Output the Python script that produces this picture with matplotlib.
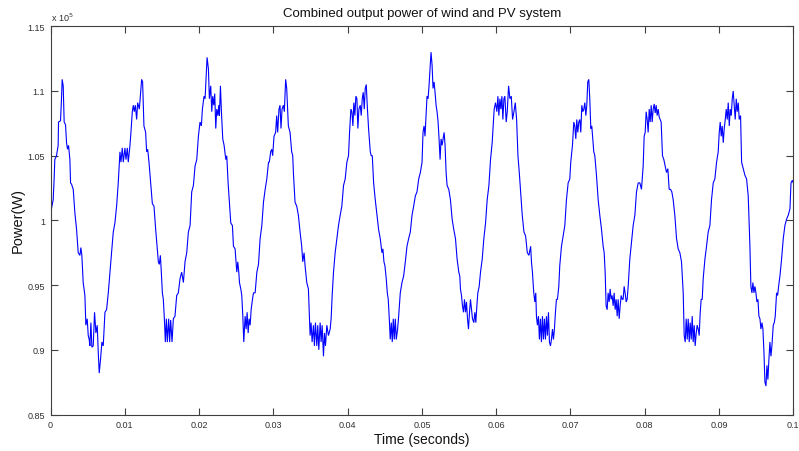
import matplotlib
matplotlib.use("Agg")
import matplotlib.pyplot as plt
import numpy as np

plt.rcParams['font.family'] = ['Liberation Sans', 'DejaVu Sans']

# ---- data: time in milliseconds, power in units of 1e5 W ----
time_ms_a = [
    0, 0.13, 0.36, 0.49, 0.58, 0.81, 1.03, 1.08, 1.35, 1.48,
    1.57, 1.71, 1.84, 2.02, 2.16, 2.29, 2.43, 2.61, 2.70, 2.83,
    3.06, 3.28, 3.51, 3.73, 3.96, 4.09, 4.22, 4.40, 4.63, 4.76,
    4.94, 5.08, 5.21, 5.30, 5.44, 5.57, 5.75, 5.93, 6.11, 6.29,
    6.43, 6.56, 6.74, 6.92, 7.10, 7.33, 7.55, 7.78, 8.00, 8.22,
    8.45, 8.67, 8.90, 9.12, 9.35, 9.48, 9.66, 9.80, 10.02, 10.16,
    10.34, 10.47, 10.70, 10.83, 11.01, 11.15, 11.28, 11.42, 11.60, 11.73,
    11.96, 12.13, 12.27, 12.40, 12.58, 12.81, 12.94, 13.08, 13.26, 13.48,
    13.71, 13.93, 14.16, 14.38, 14.52, 14.65, 14.79, 14.92, 15.06, 15.19,
    15.33, 15.46, 15.60, 15.73, 15.91, 16.04, 16.18, 16.36, 16.54, 16.76,
    16.99, 17.21, 17.44, 17.66, 17.89, 18.11, 18.34, 18.56, 18.79, 19.01,
    19.24, 19.46, 19.69, 19.91, 20.13, 20.31, 20.45, 20.67, 20.81, 20.94,
    21.08, 21.26, 21.39, 21.57, 21.71, 21.84, 21.98, 22.11, 22.25, 22.38,
    22.52, 22.65, 22.74, 22.88, 23.01, 23.19, 23.37, 23.60, 23.73, 23.91,
    24.09, 24.27, 24.49, 24.63, 24.85, 25.08, 25.21, 25.35, 25.44, 25.62,
    25.75, 25.89, 26.02, 26.20, 26.34, 26.47, 26.61, 26.74, 26.88, 27.01,
    27.19, 27.33, 27.55, 27.78, 28.00, 28.22, 28.45, 28.67, 28.90, 29.12,
    29.35,
]
power_a = [
    1.001, 1.009, 1.016, 1.032, 1.047, 1.050, 1.058, 1.076, 1.077, 1.094,
    1.109, 1.104, 1.076, 1.074, 1.060, 1.055, 1.058, 1.047, 1.029, 1.028,
    1.024, 1.006, 0.993, 0.975, 0.973, 0.979, 0.973, 0.952, 0.942, 0.919,
    0.924, 0.911, 0.908, 0.903, 0.921, 0.902, 0.903, 0.929, 0.913, 0.919,
    0.898, 0.882, 0.893, 0.906, 0.903, 0.929, 0.931, 0.944, 0.960, 0.975,
    0.991, 0.998, 1.011, 1.029, 1.053, 1.045, 1.056, 1.045, 1.056, 1.047,
    1.056, 1.045, 1.058, 1.068, 1.084, 1.089, 1.084, 1.089, 1.078, 1.091,
    1.086, 1.099, 1.109, 1.107, 1.073, 1.068, 1.053, 1.055, 1.045, 1.029,
    1.013, 1.011, 0.993, 0.978, 0.968, 0.966, 0.973, 0.960, 0.944, 0.939,
    0.924, 0.906, 0.924, 0.906, 0.924, 0.906, 0.923, 0.906, 0.924, 0.926,
    0.942, 0.944, 0.955, 0.960, 0.952, 0.968, 0.975, 0.991, 0.996, 1.022,
    1.027, 1.042, 1.047, 1.065, 1.076, 1.073, 1.086, 1.096, 1.094, 1.109,
    1.126, 1.117, 1.094, 1.104, 1.084, 1.096, 1.089, 1.098, 1.071, 1.086,
    1.081, 1.089, 1.081, 1.104, 1.084, 1.063, 1.058, 1.047, 1.050, 1.029,
    1.013, 0.998, 0.996, 0.980, 0.978, 0.960, 0.968, 0.960, 0.952, 0.947,
    0.942, 0.926, 0.906, 0.926, 0.916, 0.929, 0.913, 0.924, 0.919, 0.931,
    0.939, 0.944, 0.944, 0.960, 0.966, 0.986, 0.996, 1.014, 1.024, 1.032,
    1.045,
]

time_ms_b = [
    29.46, 29.64, 29.78, 29.91, 30.09, 30.31, 30.45, 30.58, 30.76, 30.90,
    31.03, 31.17, 31.35, 31.48, 31.66, 31.80, 32.02, 32.25, 32.47, 32.61,
    32.70, 32.92, 33.15, 33.37, 33.60, 33.82, 33.96, 34.14, 34.27, 34.50,
    34.72, 34.86, 34.95, 35.08, 35.22, 35.40, 35.53, 35.67, 35.85, 35.98,
    36.12, 36.30, 36.43, 36.57, 36.75, 36.88, 37.02, 37.20, 37.42, 37.65,
    37.78, 37.92, 38.10, 38.32, 38.55, 38.77, 39.00, 39.22, 39.45, 39.67,
    39.90, 40.12, 40.26, 40.44, 40.57, 40.71, 40.84, 40.98, 41.11, 41.25,
    41.38, 41.52, 41.70, 41.83, 41.97, 42.10, 42.24, 42.37, 42.51, 42.64,
    42.82, 43.05, 43.18, 43.32, 43.50, 43.72, 43.95, 44.17, 44.39, 44.62,
    44.75, 44.89, 45.02, 45.20, 45.34, 45.47, 45.61, 45.74, 45.88, 46.01,
    46.15, 46.28, 46.42, 46.55, 46.73, 46.87, 47.09, 47.32, 47.54, 47.77,
    47.99, 48.22, 48.44, 48.67, 48.89, 49.12, 49.34, 49.57, 49.79, 50.02,
    50.15, 50.29, 50.42, 50.56, 50.69, 50.83, 50.96, 51.10, 51.23, 51.37,
    51.50, 51.64, 51.77, 51.91, 52.04, 52.18, 52.31, 52.45, 52.58, 52.72,
    52.85, 52.99, 53.12, 53.26, 53.39, 53.62, 53.84, 54.07, 54.29, 54.52,
    54.74, 54.97, 55.10, 55.19, 55.33, 55.46, 55.60, 55.73, 55.87, 56.00,
    56.14, 56.27, 56.41, 56.54, 56.68, 56.81, 56.99, 57.13, 57.26, 57.40,
    57.53, 57.71, 57.89, 58.12, 58.34, 58.57, 58.79, 59.02, 59.24, 59.46,
    59.60, 59.73, 59.91, 60.09, 60.23, 60.36, 60.50, 60.63, 60.77, 60.90,
    61.04, 61.17, 61.35, 61.49, 61.67, 61.85, 62.03, 62.21, 62.39, 62.57,
    62.75, 62.93, 63.11, 63.29, 63.51, 63.74, 63.96, 64.19, 64.41, 64.64,
]
power_b = [
    1.045, 1.053, 1.055, 1.050, 1.065, 1.068, 1.081, 1.068, 1.086, 1.089,
    1.071, 1.086, 1.089, 1.084, 1.109, 1.102, 1.073, 1.068, 1.053, 1.050,
    1.037, 1.014, 1.011, 1.004, 0.991, 0.980, 0.968, 0.975, 0.965, 0.952,
    0.947, 0.924, 0.911, 0.921, 0.906, 0.919, 0.903, 0.921, 0.903, 0.919,
    0.900, 0.921, 0.906, 0.919, 0.895, 0.913, 0.903, 0.919, 0.911, 0.916,
    0.924, 0.942, 0.960, 0.975, 0.986, 0.996, 1.004, 1.011, 1.027, 1.032,
    1.045, 1.050, 1.068, 1.086, 1.084, 1.073, 1.091, 1.081, 1.096, 1.094,
    1.071, 1.086, 1.089, 1.081, 1.094, 1.099, 1.086, 1.102, 1.105, 1.089,
    1.071, 1.053, 1.050, 1.050, 1.029, 1.016, 1.004, 0.993, 0.986, 0.975,
    0.978, 0.968, 0.965, 0.955, 0.944, 0.939, 0.924, 0.908, 0.921, 0.906,
    0.924, 0.908, 0.924, 0.908, 0.916, 0.926, 0.944, 0.952, 0.957, 0.968,
    0.980, 0.986, 0.991, 1.004, 1.011, 1.019, 1.022, 1.032, 1.037, 1.045,
    1.068, 1.073, 1.065, 1.081, 1.096, 1.094, 1.104, 1.117, 1.130, 1.120,
    1.102, 1.107, 1.099, 1.089, 1.084, 1.076, 1.063, 1.047, 1.063, 1.058,
    1.063, 1.068, 1.058, 1.037, 1.027, 1.024, 1.016, 1.001, 0.993, 0.986,
    0.970, 0.960, 0.957, 0.947, 0.942, 0.934, 0.929, 0.939, 0.929, 0.937,
    0.924, 0.916, 0.929, 0.939, 0.931, 0.924, 0.921, 0.929, 0.921, 0.934,
    0.944, 0.949, 0.960, 0.970, 0.986, 0.998, 1.016, 1.027, 1.047, 1.060,
    1.073, 1.086, 1.091, 1.084, 1.096, 1.081, 1.094, 1.086, 1.096, 1.078,
    1.094, 1.096, 1.076, 1.084, 1.104, 1.094, 1.096, 1.078, 1.084, 1.091,
    1.078, 1.050, 1.037, 1.022, 1.004, 0.991, 0.988, 0.975, 0.973, 0.980,
]

time_ms_c = [
    64.75, 64.88, 65.06, 65.20, 65.33, 65.42, 65.55, 65.69, 65.82, 65.96,
    66.09, 66.23, 66.36, 66.50, 66.63, 66.77, 66.90, 67.04, 67.17, 67.31,
    67.44, 67.58, 67.71, 67.84, 67.98, 68.11, 68.25, 68.43, 68.56, 68.79,
    69.01, 69.24, 69.46, 69.69, 69.91, 70.04, 70.27, 70.45, 70.58, 70.72,
    70.85, 70.99, 71.12, 71.26, 71.39, 71.53, 71.66, 71.80, 71.93, 72.07,
    72.20, 72.33, 72.47, 72.60, 72.74, 72.87, 73.01, 73.14, 73.28, 73.50,
    73.73, 73.95, 74.18, 74.40, 74.54, 74.67, 74.80, 74.94, 75.07, 75.21,
    75.34, 75.48, 75.61, 75.75, 75.88, 76.02, 76.15, 76.29, 76.42, 76.56,
    76.69, 76.83, 76.96, 77.09, 77.23, 77.36, 77.50, 77.63, 77.77, 77.99,
    78.22, 78.44, 78.67, 78.89, 79.12, 79.34, 79.56, 79.79, 79.92, 80.06,
    80.19, 80.33, 80.46, 80.60, 80.73, 80.87, 81.00, 81.14, 81.27, 81.41,
    81.54, 81.67, 81.81, 81.94, 82.08, 82.21, 82.39, 82.57, 82.75, 82.93,
    83.11, 83.29, 83.47, 83.65, 83.83, 84.05, 84.28, 84.50, 84.73, 84.95,
    85.18, 85.31, 85.45, 85.58, 85.72, 85.85, 85.99, 86.12, 86.26, 86.39,
    86.52, 86.66, 86.79, 86.93, 87.06, 87.20, 87.33, 87.47, 87.60, 87.74,
    87.87, 88.10, 88.32, 88.54, 88.77, 88.99, 89.22, 89.44, 89.67, 89.89,
    90.03, 90.16, 90.30, 90.43, 90.57, 90.70, 90.84, 90.97, 91.11, 91.24,
    91.38, 91.51, 91.65, 91.78, 91.91, 92.05, 92.18, 92.32, 92.45, 92.59,
    92.72, 92.90, 93.04, 93.26, 93.48, 93.71, 93.93, 94.16, 94.29, 94.43,
    94.56, 94.70, 94.83, 94.97, 95.10, 95.24, 95.37, 95.51, 95.64, 95.78,
    95.91, 96.05, 96.18, 96.32, 96.45, 96.58, 96.72, 96.85, 96.99, 97.12,
    97.30, 97.44, 97.57, 97.75, 97.89, 98.02, 98.20, 98.42, 98.65, 98.87,
    99.10, 99.32, 99.55, 99.69, 99.87, 100.0,
]
power_c = [
    0.968, 0.960, 0.944, 0.937, 0.944, 0.926, 0.919, 0.926, 0.908, 0.924,
    0.906, 0.926, 0.908, 0.924, 0.908, 0.926, 0.911, 0.929, 0.906, 0.903,
    0.908, 0.916, 0.908, 0.916, 0.929, 0.939, 0.939, 0.949, 0.965, 0.980,
    0.988, 0.996, 1.016, 1.029, 1.032, 1.045, 1.058, 1.076, 1.073, 1.063,
    1.078, 1.068, 1.076, 1.078, 1.068, 1.089, 1.084, 1.086, 1.091, 1.081,
    1.089, 1.107, 1.109, 1.094, 1.071, 1.073, 1.063, 1.053, 1.050, 1.035,
    1.016, 1.004, 0.993, 0.980, 0.975, 0.960, 0.934, 0.931, 0.944, 0.937,
    0.947, 0.939, 0.942, 0.934, 0.944, 0.931, 0.939, 0.926, 0.939, 0.924,
    0.934, 0.942, 0.939, 0.939, 0.949, 0.944, 0.937, 0.939, 0.949, 0.970,
    0.983, 0.996, 1.004, 1.022, 1.029, 1.029, 1.024, 1.042, 1.065, 1.068,
    1.084, 1.078, 1.068, 1.086, 1.076, 1.089, 1.076, 1.086, 1.090, 1.083,
    1.089, 1.081, 1.086, 1.080, 1.078, 1.076, 1.050, 1.047, 1.042, 1.037,
    1.040, 1.024, 1.024, 1.022, 1.016, 1.004, 0.986, 0.978, 0.975, 0.968,
    0.944, 0.911, 0.906, 0.924, 0.908, 0.924, 0.906, 0.921, 0.908, 0.926,
    0.906, 0.919, 0.903, 0.913, 0.919, 0.916, 0.911, 0.929, 0.939, 0.939,
    0.955, 0.970, 0.980, 0.991, 0.996, 1.016, 1.029, 1.032, 1.045, 1.053,
    1.068, 1.076, 1.065, 1.073, 1.060, 1.071, 1.078, 1.086, 1.078, 1.091,
    1.073, 1.086, 1.081, 1.094, 1.100, 1.089, 1.078, 1.094, 1.084, 1.091,
    1.078, 1.081, 1.045, 1.040, 1.035, 1.032, 1.019, 0.980, 0.949, 0.944,
    0.952, 0.944, 0.949, 0.944, 0.937, 0.939, 0.926, 0.924, 0.916, 0.921,
    0.916, 0.898, 0.875, 0.872, 0.888, 0.877, 0.893, 0.906, 0.895, 0.903,
    0.919, 0.921, 0.926, 0.944, 0.942, 0.949, 0.957, 0.970, 0.986, 0.996,
    1.001, 1.004, 1.009, 1.029, 1.031, 1.029,
]

x_ticks = [0, 0.01, 0.02, 0.03, 0.04, 0.05, 0.06, 0.07, 0.08, 0.09, 0.1]
x_tick_labels = ["0", "0.01", "0.02", "0.03", "0.04", "0.05", "0.06",
                 "0.07", "0.08", "0.09", "0.1"]
y_ticks = [0.85, 0.9, 0.95, 1.0, 1.05, 1.1, 1.15]
y_tick_labels = ["0.85", "0.9", "0.95", "1", "1.05", "1.1", "1.15"]

title_text = "Combined output power of wind and PV system"
x_label = "Time (seconds)"
y_label = "Power(W)"

# ---- figure ----
W, H = 799, 452
fig = plt.figure(figsize=(W / 100, H / 100), dpi=100)
left, right, top, bottom = 50.5, 793.3, 27.3, 415.5
ax = fig.add_axes([left / W, 1 - bottom / H, (right - left) / W, (bottom - top) / H])

t_sec = np.concatenate([time_ms_a, time_ms_b, time_ms_c]) / 1000.0
p_val = np.concatenate([power_a, power_b, power_c])
ax.plot(t_sec, p_val, color='#0000ff', lw=0.8, solid_joinstyle='miter')

ax.set_xlim(0, 0.1)
ax.set_ylim(0.85, 1.15)
ax.set_xticks(x_ticks)
ax.set_xticklabels(x_tick_labels)
ax.set_yticks(y_ticks)
ax.set_yticklabels(y_tick_labels)

for s in ax.spines.values():
    s.set_color('#404040')
    s.set_linewidth(0.8)
ax.tick_params(direction='in', length=5, width=0.8, color='#404040',
               top=True, right=True, labelsize=6.5, labelcolor='#303030', pad=4)

fig.text((left + right) / 2 / W, 1 - 14 / H, title_text, ha='center', va='center',
         fontsize=9.5, color='#111111')
fig.text((left + right) / 2 / W, 1 - 440 / H, x_label, ha='center', va='center',
         fontsize=10, color='#111111')
fig.text(18 / W, 1 - 221 / H, y_label, ha='center', va='center', rotation=90,
         fontsize=10.5, color='#111111')
fig.text(51 / W, 1 - 18 / H, r'x 10$^{5}$', ha='left', va='center',
         fontsize=6.5, color='#303030')

fig.savefig('out.png', dpi=100, facecolor='white')
